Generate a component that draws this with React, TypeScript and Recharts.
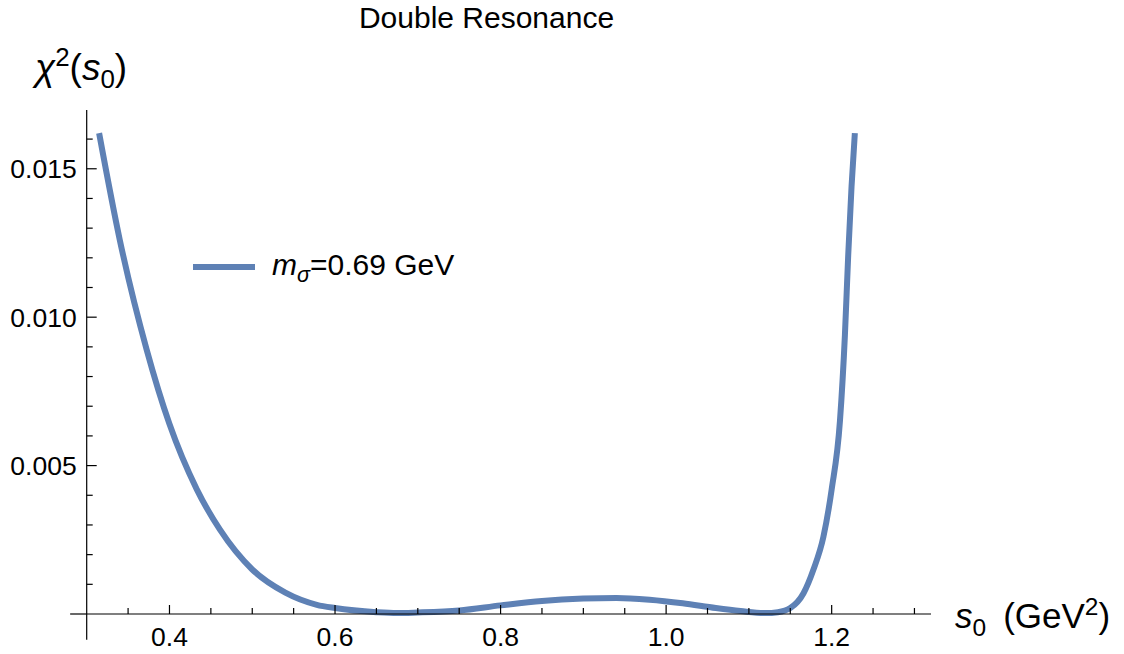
import React from 'react';
import { LineChart, Line, XAxis, YAxis, ReferenceLine, Legend } from 'recharts';

const sValues = [
  0.315, 0.34, 0.3725, 0.4, 0.433, 0.461, 0.5, 0.54, 0.578, 0.6, 0.65, 0.675, 0.7,
  0.75, 0.8, 0.85, 0.9, 0.94, 0.98, 1.02, 1.06, 1.09, 1.12, 1.135, 1.15, 1.166, 1.178,
  1.19, 1.2, 1.21, 1.216, 1.22, 1.224, 1.228,
];
const chi2Values = [
  0.0162, 0.0126, 0.0089, 0.0064, 0.0042, 0.00284, 0.0015, 0.00072, 0.00031, 0.0002,
  0.00006, 0.00003, 0.00005, 0.00012, 0.00029, 0.00044, 0.00052, 0.00054, 0.00048,
  0.00036, 0.0002, 0.0001, 0.00003, 0.00006, 0.0002, 0.0007, 0.0015, 0.0026, 0.0042,
  0.0065, 0.0094, 0.0121, 0.0144, 0.0162,
];

const xTickValues = [
  0.35, 0.4, 0.45, 0.5, 0.55, 0.6, 0.65, 0.7, 0.75, 0.8, 0.85, 0.9, 0.95, 1.0, 1.05,
  1.1, 1.15, 1.2, 1.25, 1.3,
];
const xMajorTicks = [0.4, 0.6, 0.8, 1.0, 1.2];
const yTickValues = [
  0.001, 0.002, 0.003, 0.004, 0.005, 0.006, 0.007, 0.008, 0.009, 0.01, 0.011, 0.012,
  0.013, 0.014, 0.015, 0.016,
];
const yMajorTicks = [0.005, 0.01, 0.015];
const yMajorLabels = ['0.005', '0.010', '0.015'];

const xDomain = [0.3, 1.32];
const yDomain = [0, 0.01698];
const xAxisExtendMin = 0.28;
const yAxisExtendMin = -0.00087;

const COLOR = '#5E81B5';
const FONT = '"Liberation Sans", Arial, Helvetica, sans-serif';

const data = sValues.map((s, i) => ({ s, chi2: chi2Values[i] }));

const majorIndex = (v: number, majors: number[]) =>
  majors.findIndex((m) => Math.abs(m - v) < 1e-9);

const XTick = (props: any) => {
  const { x, y, payload } = props;
  const idx = majorIndex(payload.value, xMajorTicks);
  const major = idx >= 0;
  return (
    <g>
      <line x1={x} x2={x} y1={y} y2={y - (major ? 9 : 6)} stroke="#000" strokeWidth={1.2} />
      {major && (
        <text x={x} y={y + 32} textAnchor="middle" fontSize={26.5} fontFamily={FONT} fill="#000">
          {xMajorTicks[idx].toFixed(1)}
        </text>
      )}
    </g>
  );
};

const YTick = (props: any) => {
  const { x, y, payload } = props;
  const idx = majorIndex(payload.value, yMajorTicks);
  const major = idx >= 0;
  return (
    <g>
      <line x1={x} x2={x + (major ? 10 : 6)} y1={y} y2={y} stroke="#000" strokeWidth={1.2} />
      {major && (
        <text x={x - 10} y={y} dy="0.36em" textAnchor="end" fontSize={26.5} fontFamily={FONT} fill="#000">
          {yMajorLabels[idx]}
        </text>
      )}
    </g>
  );
};

const renderLegend = () => (
  <div style={{ display: 'flex', alignItems: 'center', fontFamily: FONT, fontSize: 30, color: '#000', whiteSpace: 'nowrap' }}>
    <svg width={62} height={8} style={{ display: 'block' }}>
      <line x1={0} x2={62} y1={4} y2={4} stroke={COLOR} strokeWidth={6} />
    </svg>
    <span style={{ marginLeft: 17, lineHeight: '32px' }}>
      <i>m</i>
      <i style={{ fontSize: '0.72em', position: 'relative', top: 7 }}>σ</i>=0.69 GeV
    </span>
  </div>
);

export default function App() {
  return (
    <div style={{ position: 'absolute', left: 0, top: 0, width: 1124, height: 654, background: '#fff' }}>
      <div
        style={{
          position: 'absolute', left: 0, width: 973, top: 0, textAlign: 'center',
          fontFamily: FONT, fontSize: 30, lineHeight: '36px', color: '#000',
        }}
      >
        Double Resonance
      </div>
      <div
        style={{
          position: 'absolute', left: 35, top: 48, fontFamily: FONT, fontSize: 37,
          lineHeight: '40px', color: '#000', whiteSpace: 'nowrap',
        }}
      >
        <i>χ</i>
        <span style={{ fontSize: '0.7em', position: 'relative', top: -14 }}>2</span>
        (<i>s</i>
        <span style={{ fontSize: '0.7em', position: 'relative', top: 8 }}>0</span>)
      </div>
      <div
        style={{
          position: 'absolute', left: 955, top: 596, fontFamily: FONT, fontSize: 35,
          lineHeight: '40px', color: '#000', whiteSpace: 'nowrap',
        }}
      >
        <i>s</i>
        <span style={{ fontSize: '0.7em', position: 'relative', top: 8 }}>0</span>
        <span style={{ marginLeft: 17 }}>(GeV</span>
        <span style={{ fontSize: '0.7em', position: 'relative', top: -13 }}>2</span>)
      </div>
      <LineChart
        width={1124}
        height={654}
        data={data}
        margin={{ top: 110, right: 193, bottom: 0, left: 0 }}
        style={{ position: 'absolute', left: 0, top: 0 }}
      >
        <XAxis
          dataKey="s"
          type="number"
          domain={xDomain}
          ticks={xTickValues}
          interval={0}
          height={40}
          tickSize={0}
          tickMargin={0}
          tickLine={false}
          axisLine={{ stroke: '#000', strokeWidth: 1.2 }}
          tick={<XTick />}
        />
        <YAxis
          type="number"
          domain={yDomain}
          ticks={yTickValues}
          interval={0}
          width={86.7}
          tickSize={0}
          tickMargin={0}
          tickLine={false}
          axisLine={{ stroke: '#000', strokeWidth: 1.2 }}
          tick={<YTick />}
        />
        <ReferenceLine
          segment={[{ x: xAxisExtendMin, y: 0 }, { x: xDomain[0], y: 0 }]}
          ifOverflow="visible"
          stroke="#000"
          strokeWidth={1.2}
        />
        <ReferenceLine
          segment={[{ x: xDomain[0], y: yAxisExtendMin }, { x: xDomain[0], y: 0 }]}
          ifOverflow="visible"
          stroke="#000"
          strokeWidth={1.2}
        />
        <Legend
          layout="horizontal"
          verticalAlign="middle"
          align="center"
          content={renderLegend}
          wrapperStyle={{ left: 193, top: 249, width: 340, height: 32 }}
        />
        <Line
          type="monotone"
          dataKey="chi2"
          stroke={COLOR}
          strokeWidth={6}
          dot={false}
          activeDot={false}
          isAnimationActive={false}
        />
      </LineChart>
    </div>
  );
}
